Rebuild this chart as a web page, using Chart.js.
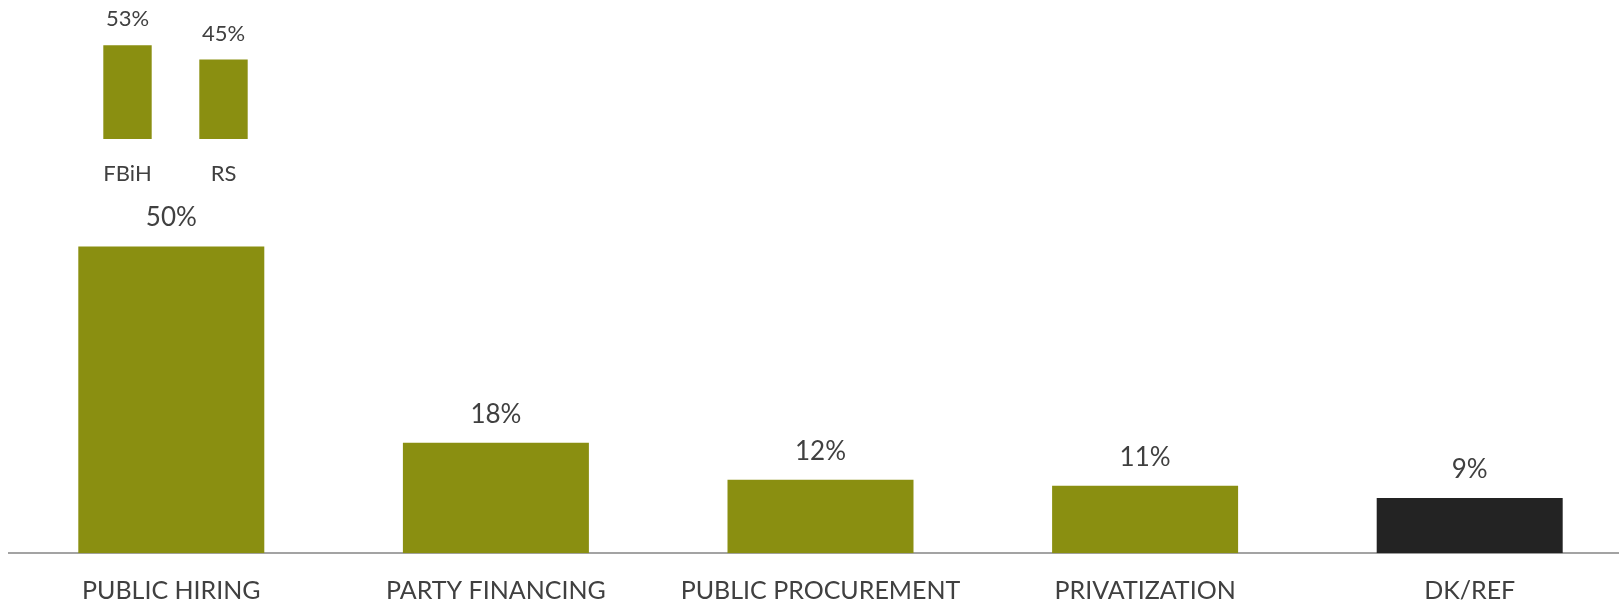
<!DOCTYPE html>
<html>
<head>
<meta charset="utf-8">
<script src="https://cdn.jsdelivr.net/npm/chart.js@4/dist/chart.umd.min.js"></script>
<style>
  html, body { margin: 0; padding: 0; background: #fff; overflow: hidden; width: 1619px; height: 603px; }
  #principal { position: absolute; left: 0; top: 0; }
  #recuadro { position: absolute; left: 0; top: 0; }
</style>
</head>
<body>
<div id="principal"><canvas id="grafico-principal" width="1640" height="606" style="width:1640px;height:606px"></canvas></div>
<div id="recuadro"><canvas id="grafico-recuadro" width="300" height="186" style="width:300px;height:186px"></canvas></div>
<script>
// Datos del gráfico principal
var categorias = ['PUBLIC HIRING', 'PARTY FINANCING', 'PUBLIC PROCUREMENT', 'PRIVATIZATION', 'DK/REF'];
var valores = [50, 18, 12, 11, 9];
var coloresBarras = ['#8a8f11', '#8a8f11', '#8a8f11', '#8a8f11', '#232323'];

// Datos del recuadro por entidad
var entidades = ['FBiH', 'RS'];
var valoresEntidades = [53, 45];

var colorTexto = '#404040';
var fuente = 'Lato, "Open Sans", sans-serif';

// Plugin sencillo para escribir el porcentaje encima de cada barra
function etiquetasPlugin(tamano, separacion) {
    return {
        id: 'etiquetas',
        afterDatasetsDraw: function(chart) {
            var ctx = chart.ctx;
            var meta = chart.getDatasetMeta(0);
            var datos = chart.data.datasets[0].data;
            ctx.save();
            ctx.font = tamano + 'px ' + fuente;
            ctx.fillStyle = colorTexto;
            ctx.textAlign = 'center';
            ctx.textBaseline = 'alphabetic';
            meta.data.forEach(function(barra, i) {
                ctx.fillText(datos[i] + '%', barra.x, barra.y - separacion);
            });
            ctx.restore();
        }
    };
}

document.addEventListener('DOMContentLoaded', function() {
    // Gráfico principal
    var ctxPrincipal = document.getElementById('grafico-principal').getContext('2d');
    new Chart(ctxPrincipal, {
        type: 'bar',
        data: {
            labels: categorias,
            datasets: [{
                data: valores,
                backgroundColor: coloresBarras,
                borderWidth: 0,
                barPercentage: 0.573,
                categoryPercentage: 1
            }]
        },
        options: {
            responsive: false,
            animation: false,
            layout: { padding: { left: 9, right: 8, top: 185, bottom: 0 } },
            plugins: { legend: { display: false }, tooltip: { enabled: false } },
            scales: {
                x: {
                    grid: { display: false, drawTicks: false },
                    border: { display: true, color: '#a3a3a3', width: 2 },
                    ticks: { color: colorTexto, font: { family: fuente, size: 25 }, padding: 23, maxRotation: 0 },
                    afterFit: function(escala) { escala.height = 52.7; }
                },
                y: { display: false, min: 0, max: 60 }
            }
        },
        plugins: [etiquetasPlugin(26, 20)]
    });

    // Recuadro FBiH / RS
    var ctxRecuadro = document.getElementById('grafico-recuadro').getContext('2d');
    new Chart(ctxRecuadro, {
        type: 'bar',
        data: {
            labels: entidades,
            datasets: [{
                data: valoresEntidades,
                backgroundColor: '#8a8f11',
                borderWidth: 0,
                barPercentage: 0.504,
                categoryPercentage: 1
            }]
        },
        options: {
            responsive: false,
            animation: false,
            layout: { padding: { left: 79.5, right: 28.5, top: 33, bottom: 0 } },
            plugins: { legend: { display: false }, tooltip: { enabled: false } },
            scales: {
                x: {
                    grid: { display: false, drawTicks: false },
                    border: { display: false },
                    ticks: { color: colorTexto, font: { family: fuente, size: 22 }, padding: 22, maxRotation: 0 },
                    afterFit: function(escala) { escala.height = 47; }
                },
                y: { display: false, min: 0, max: 60 }
            }
        },
        plugins: [etiquetasPlugin(22, 19)]
    });
});
</script>
</body>
</html>
